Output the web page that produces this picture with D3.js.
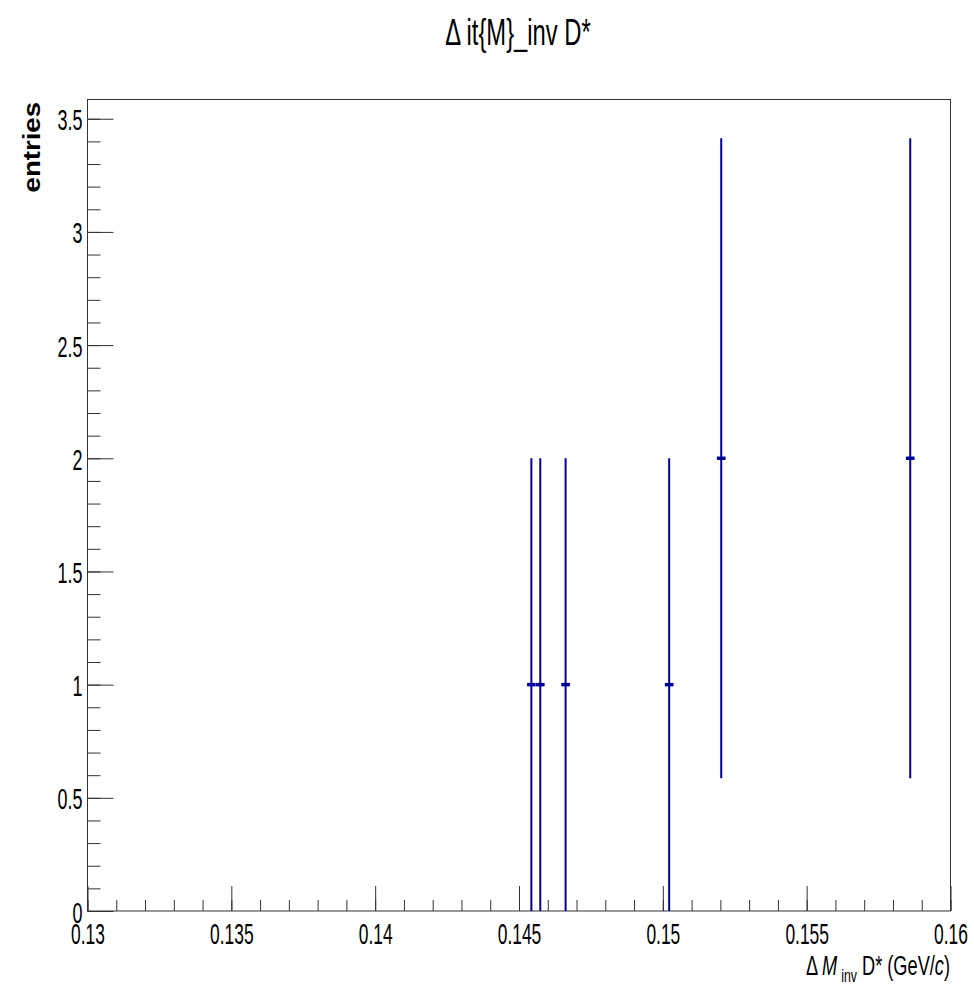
<html>
<head>
<script src="https://d3js.org/d3.v7.min.js"></script>
<style>
body { margin: 0; background: #fff; }
text { font-family: "Liberation Sans", Arial, sans-serif; fill: #000; }
</style>
</head>
<body>
<svg id="chart" width="974" height="986"></svg>
<script>
// histogram entries (bin centres, counts, sqrt(N) errors)
const binCenters = [0.14543, 0.14574, 0.14662, 0.15022, 0.15203, 0.15860];
const counts = [1, 1, 1, 1, 2, 2];
const countErrors = [1, 1, 1, 1, 1.414, 1.414];
const binHalfWidth = 0.00015;

const xMajorTicks = [0.13, 0.135, 0.14, 0.145, 0.15, 0.155, 0.16];
const xTickLabels = ["0.13", "0.135", "0.14", "0.145", "0.15", "0.155", "0.16"];
const yMajorTicks = [0, 0.5, 1, 1.5, 2, 2.5, 3, 3.5];
const yTickLabels = ["0", "0.5", "1", "1.5", "2", "2.5", "3", "3.5"];

const titleText = "\u0394 it{M}_inv D*";
const yTitle = "entries";

const svg = d3.select("#chart");
const padLeft = 87.5, padRight = 950.5, padTop = 99.5, padBottom = 911;

var x = d3.scaleLinear().domain([0.13, 0.16]).range([padLeft, padRight]);
var y = d3.scaleLinear().domain([0, 3.585]).range([padBottom, padTop]);

// minor ticks
var xMinor = d3.range(0, 31).map(function(i) { return 0.13 + i * 0.001; });
var yMinor = d3.range(0, 36).map(function(i) { return i * 0.1; });

svg.append("g")
  .attr("transform", "translate(0," + padBottom + ")")
  .call(d3.axisBottom(x).tickValues(xMinor).tickSizeInner(-11).tickSizeOuter(0).tickFormat(""))
  .call(g => g.select(".domain").remove())
  .selectAll("line").attr("stroke", "#333");

svg.append("g")
  .attr("transform", "translate(" + padLeft + ",0)")
  .call(d3.axisLeft(y).tickValues(yMinor).tickSizeInner(-13).tickSizeOuter(0).tickFormat(""))
  .call(g => g.select(".domain").remove())
  .selectAll("line").attr("stroke", "#333");

// major ticks + labels
var xAxis = svg.append("g")
  .attr("transform", "translate(0," + padBottom + ")")
  .call(d3.axisBottom(x).tickValues(xMajorTicks).tickSizeInner(-25).tickSizeOuter(0)
    .tickFormat(function(d, i) { return xTickLabels[i]; }));
xAxis.select(".domain").remove();
xAxis.selectAll("line").attr("stroke", "#333");
xAxis.selectAll("text")
  .attr("y", null).attr("dy", null)
  .attr("transform", "translate(0,33) scale(0.58,1)")
  .style("font-size", "30px").style("fill", "#000");

var yAxis = svg.append("g")
  .attr("transform", "translate(" + padLeft + ",0)")
  .call(d3.axisLeft(y).tickValues(yMajorTicks).tickSizeInner(-26).tickSizeOuter(0)
    .tickFormat(function(d, i) { return yTickLabels[i]; }));
yAxis.select(".domain").remove();
yAxis.selectAll("line").attr("stroke", "#333");
yAxis.selectAll("text")
  .attr("x", null).attr("dy", null)
  .attr("transform", "translate(-5,11) scale(0.6,1)")
  .style("font-size", "30px").style("fill", "#000");

// frame
svg.append("rect")
  .attr("x", padLeft).attr("y", padTop)
  .attr("width", padRight - padLeft).attr("height", padBottom - padTop)
  .attr("fill", "none").attr("stroke", "#333").attr("stroke-width", 1);

// error bars
var pts = svg.append("g").attr("id", "points");
pts.selectAll("line.v")
  .data(counts)
  .enter().append("line").attr("class", "v")
  .attr("x1", function(d, i) { return x(binCenters[i]); })
  .attr("x2", function(d, i) { return x(binCenters[i]); })
  .attr("y1", function(d, i) { return y(d - countErrors[i]); })
  .attr("y2", function(d, i) { return y(d + countErrors[i]); })
  .attr("stroke", "#00009a").attr("stroke-width", 2);
pts.selectAll("line.h")
  .data(counts)
  .enter().append("line").attr("class", "h")
  .attr("x1", function(d, i) { return x(binCenters[i] - binHalfWidth); })
  .attr("x2", function(d, i) { return x(binCenters[i] + binHalfWidth); })
  .attr("y1", function(d) { return y(d); })
  .attr("y2", function(d) { return y(d); })
  .attr("stroke", "#00009a").attr("stroke-width", 3.5);

// title
svg.append("text")
  .attr("transform", "translate(518,45) scale(0.66,1)")
  .attr("text-anchor", "middle")
  .style("font-size", "36px")
  .text(titleText);

// x axis title
var xt = svg.append("text")
  .attr("transform", "translate(950,975) scale(0.65,1)")
  .attr("text-anchor", "end")
  .style("font-size", "28px");
xt.append("tspan").text("\u0394 ");
xt.append("tspan").style("font-style", "italic").text("M");
xt.append("tspan").attr("dx", 6).attr("dy", 7).style("font-size", "19px").text("inv");
xt.append("tspan").attr("dy", -7).text(" D* (GeV/");
xt.append("tspan").style("font-style", "italic").text("c");
xt.append("tspan").text(")");

// y axis title
svg.append("text")
  .attr("transform", "translate(40,102) rotate(-90) scale(1.2,1)")
  .attr("text-anchor", "end")
  .style("font-size", "23px")
  .style("font-weight", "bold")
  .text(yTitle);
</script>
</body>
</html>
